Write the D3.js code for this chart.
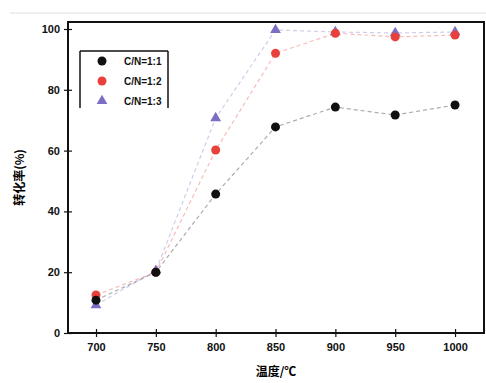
<!DOCTYPE html>
<html><head><meta charset="utf-8">
<script src="https://cdn.jsdelivr.net/npm/d3@7"></script>
<style>body{margin:0;background:#fff}svg{display:block}</style>
</head><body>
<script>
const temps = [700, 750, 800, 850, 900, 950, 1000];
const xTicks = [700, 750, 800, 850, 900, 950, 1000];
const yTicks = [0, 20, 40, 60, 80, 100];
const seriesNames = ["C/N=1:1", "C/N=1:2", "C/N=1:3"];
const seriesA = [10.8, 20.0, 45.7, 67.8, 74.3, 71.7, 75.0];
const seriesB = [12.5, 20.0, 60.2, 92.0, 98.6, 97.4, 98.0];
const seriesC = [9.2, 20.5, 70.7, 99.7, 99.0, 98.7, 99.0];
const colors = ["#111111", "#e8403a", "#7b6fc4"];
const shapes = ["circle", "circle", "triangle"];

const W = 486, H = 383;
const m = {l: 68, r: 2, t: 22, b: 50};
const svg = d3.select("body").append("svg").attr("width", W).attr("height", H);
const x = d3.scaleLinear().domain([676.6, 1024.2]).range([m.l, W - m.r]);
const y = d3.scaleLinear().domain([0, 102.3]).range([H - m.b, m.t]);

// faint outer frame
svg.append("line").attr("x1", 10).attr("x2", W).attr("y1", 13).attr("y2", 13).attr("stroke", "#ddd");

const font = "'Liberation Sans', Arial, sans-serif";
const xa = svg.append("g").attr("transform", `translate(0,${H - m.b})`)
  .call(d3.axisBottom(x).tickValues(xTicks).tickSize(4).tickPadding(6).tickFormat(d3.format("d")));
const ya = svg.append("g").attr("transform", `translate(${m.l},0)`)
  .call(d3.axisLeft(y).tickValues(yTicks).tickSize(4).tickPadding(4));
[xa, ya].forEach(a => {
  a.select(".domain").remove();
  a.selectAll("text").attr("font-family", font).attr("font-size", 11).attr("font-weight", "bold").attr("fill", "#111");
  a.selectAll("line").attr("stroke", "#111").attr("stroke-width", 1.2);
});
// inner ticks
xa.selectAll(".tick").append("line").attr("y1", 0).attr("y2", -4).attr("stroke", "#111").attr("stroke-width", 1.2);
ya.selectAll(".tick").append("line").attr("x1", 0).attr("x2", 4).attr("stroke", "#111").attr("stroke-width", 1.2);

// frame
svg.append("rect").attr("x", m.l).attr("y", m.t).attr("width", W - m.r - m.l).attr("height", H - m.b - m.t)
  .attr("fill", "none").attr("stroke", "#111").attr("stroke-width", 2);

const all = [seriesA, seriesB, seriesC];
const line = d3.line().x((d, i) => x(temps[i])).y(d => y(d));
all.forEach((s, k) => {
  svg.append("path").datum(s).attr("d", line).attr("fill", "none")
    .attr("stroke", colors[k]).attr("stroke-opacity", 0.35).attr("stroke-width", 1.2).attr("stroke-dasharray", "4,3");
});
const tri = d3.symbol().type(d3.symbolTriangle).size(50);
function mark(g, k, cx, cy) {
  if (shapes[k] === "circle") {
    g.append("circle").attr("cx", cx).attr("cy", cy).attr("r", 4.5).attr("fill", colors[k]);
  } else {
    g.append("path").attr("d", tri()).attr("transform", `translate(${cx},${cy})`).attr("fill", colors[k]);
  }
}
[2, 1, 0].forEach(k => {
  const g = svg.append("g");
  all[k].forEach((v, i) => mark(g, k, x(temps[i]), y(v)));
});

// legend
const lg = svg.append("g");
lg.append("line").attr("x1", 80).attr("x2", 168).attr("y1", 51).attr("y2", 51).attr("stroke", "#111").attr("stroke-width", 1.5);
lg.append("line").attr("x1", 80).attr("x2", 80).attr("y1", 51).attr("y2", 108).attr("stroke", "#111").attr("stroke-width", 1.5);
lg.append("line").attr("x1", 168).attr("x2", 168).attr("y1", 51).attr("y2", 108).attr("stroke", "#111").attr("stroke-width", 1.5);
seriesNames.forEach((n, k) => {
  const yy = 61 + k * 20;
  mark(lg, k, 102, yy);
  lg.append("text").attr("x", 124).attr("y", yy + 4).text(n)
    .attr("font-family", font).attr("font-size", 10).attr("font-weight", "bold").attr("fill", "#111");
});

svg.append("text").attr("x", (m.l + W - m.r) / 2).attr("y", 376).attr("text-anchor", "middle")
  .attr("font-family", "'Noto Sans CJK SC', sans-serif").attr("font-size", 12).attr("font-weight", "bold").text("温度/℃");
svg.append("text").attr("transform", `translate(24,${(m.t + H - m.b) / 2}) rotate(-90)`).attr("text-anchor", "middle")
  .attr("font-family", "'Noto Sans CJK SC', sans-serif").attr("font-size", 12).attr("font-weight", "bold").text("转化率(%)");
</script>
</body></html>
